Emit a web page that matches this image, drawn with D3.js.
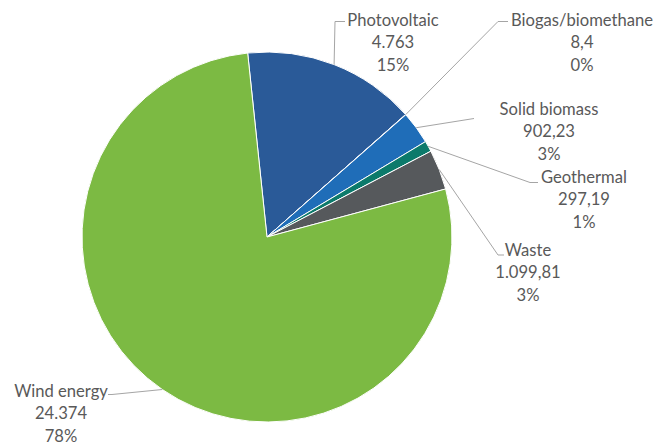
<!DOCTYPE html>
<html>
<head>
<meta charset="utf-8">
<script src="https://cdn.jsdelivr.net/npm/d3@7"></script>
<style>
  html, body { margin: 0; padding: 0; background: #ffffff; }
  svg { display: block; }
  text { font-family: "Lato", "Open Sans", sans-serif; }
</style>
</head>
<body>
<svg id="chart" width="656" height="446"></svg>
<script>
// Installed capacity by renewable source
const categories = ["Photovoltaic", "Biogas/biomethane", "Solid biomass", "Geothermal", "Waste", "Wind energy"];
const values = [4763, 8.4, 902.23, 297.19, 1099.81, 24374];
const colors = ["#2a5a98", "#2466ad", "#1f6db8", "#0c7a6b", "#56595c", "#7cba43"];

// Label placement: centre x and first baseline of each label block, plus leader line bends
const labelLayout = [
  { x: 393, y: 26,  path: [[335, 21.5], [345, 21.5]] },
  { x: 582, y: 26,  path: [[498, 21.5], [508, 21.5]] },
  { x: 549, y: 115, path: [[474, 118.5]] },
  { x: 584, y: 183, path: [[530, 182.5], [538, 182.5]] },
  { x: 528, y: 256, path: [[498, 255], [504, 255]] },
  { x: 61,  y: 397, path: [[112, 394.5], [108, 394.5]] }
];

const width = 656, height = 446;
const cx = 267, cy = 237, radius = 185;
const firstSliceAngle = 354; // degrees, clockwise from 12 o'clock

const locale = d3.formatLocale({ decimal: ",", thousands: ".", grouping: [3], currency: ["", " €"] });
const fmtValue = locale.format(",");
const total = d3.sum(values);

const svg = d3.select("#chart");
svg.append("rect").attr("width", width).attr("height", height).attr("fill", "#ffffff");

const start = firstSliceAngle * Math.PI / 180;
const pie = d3.pie().sort(null).value(d => d.value)
  .startAngle(start).endAngle(start + 2 * Math.PI);

const data = categories.map((c, i) => ({ name: c, value: values[i], color: colors[i], layout: labelLayout[i] }));
const arcs = pie(data);

const arc = d3.arc().innerRadius(0).outerRadius(radius);

const g = svg.append("g").attr("transform", `translate(${cx},${cy})`);

g.selectAll("path.slice")
  .data(arcs)
  .join("path")
  .attr("class", "slice")
  .attr("d", arc)
  .attr("fill", d => d.data.color)
  .attr("stroke", "#ffffff")
  .attr("stroke-width", 1)
  .attr("stroke-linejoin", "round");

// Leader lines from the middle of each slice's outer edge
const line = d3.line();
svg.append("g").selectAll("path.leader")
  .data(arcs)
  .join("path")
  .attr("class", "leader")
  .attr("d", d => {
    const mid = (d.startAngle + d.endAngle) / 2;
    const p0 = [cx + radius * Math.sin(mid), cy - radius * Math.cos(mid)];
    return line([p0, ...d.data.layout.path]);
  })
  .attr("fill", "none")
  .attr("stroke", "#a5a5a5")
  .attr("stroke-width", 1);

// Data labels: category, value, share
const labels = svg.append("g").selectAll("text.label")
  .data(arcs)
  .join("text")
  .attr("class", "label")
  .attr("text-anchor", "middle")
  .attr("fill", "#595959")
  .attr("font-size", 16.6);

labels.each(function(d) {
  const t = d3.select(this);
  const lines = [d.data.name, fmtValue(d.data.value), Math.round(d.data.value / total * 100) + "%"];
  lines.forEach((s, i) => {
    t.append("tspan")
      .attr("x", d.data.layout.x)
      .attr("y", d.data.layout.y + i * 22.3)
      .text(s);
  });
});
</script>
</body>
</html>
